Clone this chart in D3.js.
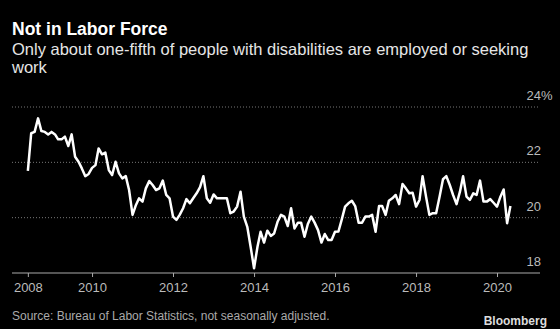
<!DOCTYPE html>
<html>
<head>
<meta charset="utf-8">
<script src="https://cdn.jsdelivr.net/npm/d3@7"></script>
<style>
  body { margin: 0; background: #000; }
  svg { display: block; font-family: "Liberation Sans", Arial, sans-serif; }
</style>
</head>
<body>
<div id="chart"></div>
<script>
// share of people with disabilities in the labor force, monthly, not seasonally adjusted
const firstMonth = "2008-06";
const values = [
  21.69, 23.05, 23.1, 23.59, 23.13, 23.1, 23.01,
  23.1, 23.01, 22.83, 22.83, 22.93, 22.59, 23.01, 22.2, 22.02, 21.78, 21.5, 21.58,
  21.8, 21.9, 22.5, 22.29, 22.35, 21.72, 21.54, 22.02, 21.6, 21.42, 21.5, 21.0,
  20.1, 20.46, 20.7, 20.58, 21.06, 21.32, 21.18, 21.0, 21.06, 21.34, 20.82, 20.7,
  20.04, 19.92, 20.1, 20.34, 20.67, 20.52, 20.7, 20.88, 21.1, 21.5, 20.7, 20.54,
  20.84, 20.7, 20.7, 20.7, 20.7, 20.16, 20.22, 20.4, 20.94, 20.04, 19.67, 18.95,
  18.17, 18.95, 19.49, 19.1, 19.53, 19.34, 19.43, 19.85, 20.1, 20.04, 19.7, 20.34,
  19.61, 19.82, 19.82, 19.31, 19.77, 20.04, 19.82, 19.55, 19.1, 19.41, 19.19, 19.19,
  19.49, 19.5, 19.92, 20.4, 20.52, 20.61, 20.42, 19.82, 19.82, 20.04, 20.04, 20.1,
  19.49, 20.42, 20.42, 20.1, 20.61, 20.7, 20.82, 20.49, 21.22, 21.06, 20.88, 20.9,
  20.4, 20.64, 21.5, 20.76, 20.1, 20.16, 20.16, 20.76, 21.39, 21.5, 21.18, 20.82,
  20.49, 20.94, 21.5, 20.76, 20.64, 20.88, 20.82, 21.34, 20.58, 20.58, 20.67, 20.54,
  20.4, 20.76, 21.02, 19.8, 20.42
];
const xTickMonths = ["2008-06", "2010-01", "2012-01", "2014-01", "2016-01", "2018-01", "2020-01"];
const xTickLabels = ["2008", "2010", "2012", "2014", "2016", "2018", "2020"];
const yTicks = [18, 20, 22, 24];

const title = "Not in Labor Force";
const subtitle = ["Only about one-fifth of people with disabilities are employed or seeking", "work"];
const source = "Source: Bureau of Labor Statistics, not seasonally adjusted.";

const width = 560, height = 329;
const parseMonth = d3.timeParse("%Y-%m");
const start = parseMonth(firstMonth);
const data = values.map((v, i) => ({ date: d3.timeMonth.offset(start, i), value: v }));

const svg = d3.select("#chart").append("svg")
  .attr("width", width)
  .attr("height", height);

svg.append("rect").attr("width", width).attr("height", height).attr("fill", "#000");

const x = d3.scaleTime()
  .domain([parseMonth("2008-01"), parseMonth("2020-01")])
  .range([11, 497]);

const y = d3.scaleLinear()
  .domain([18, 24])
  .range([273, 107]);

const left = 12, right = 540;

// header
svg.append("text")
  .attr("x", 12).attr("y", 35)
  .attr("fill", "#fff")
  .attr("font-size", 17.5)
  .attr("font-weight", "bold")
  .text(title);

svg.append("text")
  .attr("x", 12).attr("y", 55)
  .attr("fill", "#e6e6e6")
  .attr("font-size", 16.5)
  .selectAll("tspan")
  .data(subtitle)
  .enter().append("tspan")
  .attr("x", 12)
  .attr("dy", (d, i) => i ? 18 : 0)
  .text(d => d);

// dotted gridlines
svg.append("g")
  .selectAll("line")
  .data(yTicks.filter(d => d > 18))
  .enter().append("line")
  .attr("x1", left).attr("x2", right)
  .attr("y1", d => y(d)).attr("y2", d => y(d))
  .attr("stroke", "#777")
  .attr("stroke-width", 1)
  .attr("stroke-dasharray", "1,2");

// y labels sit just above their gridline
const yLab = svg.append("g")
  .attr("font-size", 13)
  .attr("fill", "#bbb");

yLab.selectAll("text")
  .data(yTicks)
  .enter().append("text")
  .attr("x", 541)
  .attr("y", d => y(d) - 7)
  .attr("text-anchor", "end")
  .text(d => d);

yLab.append("text")
  .attr("x", 541)
  .attr("y", y(24) - 7)
  .text("%");

// x axis
const xAxis = d3.axisBottom(x)
  .tickValues(xTickMonths.map(parseMonth))
  .tickFormat((d, i) => xTickLabels[i])
  .tickSize(4)
  .tickPadding(6);

const gx = svg.append("g")
  .attr("transform", `translate(0,${y(18)})`)
  .call(xAxis);

gx.select(".domain").remove();
gx.insert("line", ":first-child")
  .attr("x1", left).attr("x2", right)
  .attr("stroke", "#aaa")
  .attr("stroke-width", 1);
gx.selectAll(".tick line").attr("stroke", "#aaa");
gx.selectAll(".tick text")
  .attr("fill", "#bbb")
  .attr("font-size", 13)
  .attr("font-family", "Liberation Sans, Arial, sans-serif");

// the series
const line = d3.line()
  .x(d => x(d.date))
  .y(d => y(d.value));

svg.append("path")
  .datum(data)
  .attr("fill", "none")
  .attr("stroke", "#fff")
  .attr("stroke-width", 2.5)
  .attr("stroke-linejoin", "round")
  .attr("d", line);

// footer
svg.append("text")
  .attr("x", 12).attr("y", 320)
  .attr("fill", "#aaa")
  .attr("font-size", 12)
  .text(source);

svg.append("text")
  .attr("x", 547).attr("y", 325)
  .attr("text-anchor", "end")
  .attr("fill", "#ddd")
  .attr("font-size", 12)
  .attr("font-weight", "bold")
  .text("Bloomberg");
</script>
</body>
</html>
